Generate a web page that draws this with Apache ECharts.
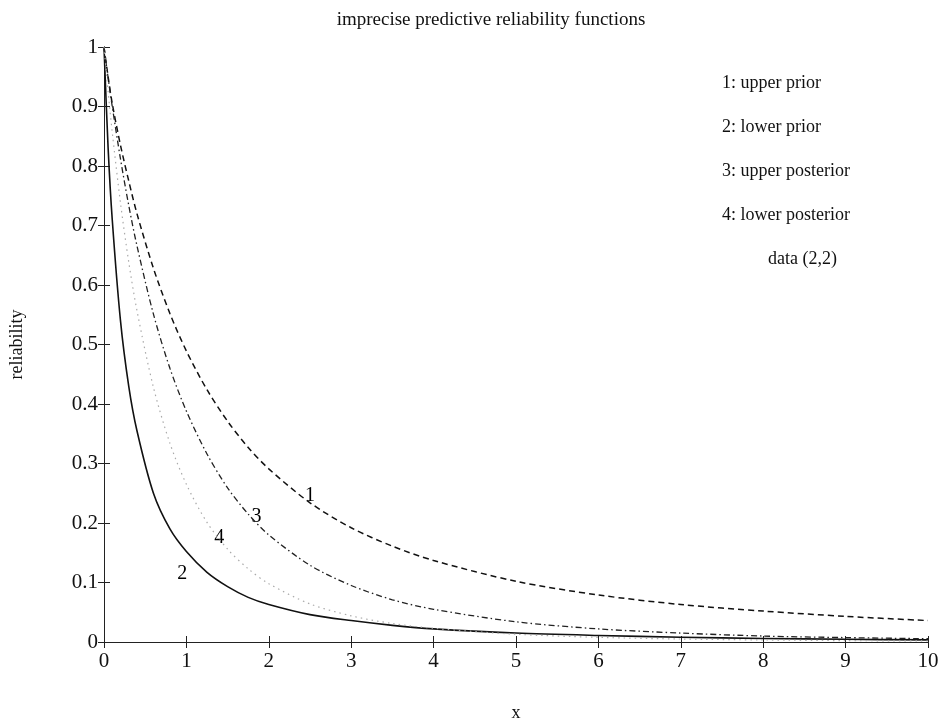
<!DOCTYPE html>
<html>
<head>
<meta charset="utf-8">
<script src="https://cdn.jsdelivr.net/npm/echarts@6/dist/echarts.min.js"></script>
<style>html,body{margin:0;padding:0;background:#fff}#c{width:943px;height:727px}</style>
</head>
<body>
<div id="c"></div>
<script>
var xs = [0,0.05,0.1,0.2,0.3,0.4,0.6,0.8,1,1.25,1.5,1.75,2,2.5,3,3.5,4,5,6,7,8,9,10];
var upperPrior = [1,0.95,0.905,0.835,0.775,0.72,0.628,0.552,0.489,0.424,0.371,0.327,0.291,0.234,0.192,0.161,0.137,0.102,0.079,0.063,0.052,0.043,0.036];
var lowerPrior = [1,0.83,0.71,0.54,0.43,0.355,0.25,0.19,0.152,0.117,0.093,0.075,0.063,0.046,0.036,0.028,0.022,0.015,0.011,0.008,0.006,0.0045,0.0035];
var upperPost = [1,0.948,0.9,0.812,0.734,0.666,0.551,0.46,0.388,0.316,0.259,0.215,0.18,0.129,0.095,0.071,0.055,0.034,0.022,0.015,0.010,0.0074,0.0055];
var lowerPost = [1,0.925,0.857,0.738,0.639,0.557,0.428,0.334,0.265,0.201,0.156,0.123,0.098,0.064,0.044,0.031,0.023,0.013,0.0078,0.005,0.0034,0.0023,0.0017];
var curveLabels = ['1','2','3','4'];
var curveLabelX = [2.5,0.95,1.85,1.4];
var curveLabelY = [0.245,0.115,0.21,0.175];
var legendLines = ['1: upper prior','2: lower prior','3: upper posterior','4: lower posterior'];
var dataNote = 'data (2,2)';

function pairs(ys){ return xs.map(function(x,i){ return [x, ys[i]]; }); }
var FONT = '"Liberation Serif", "DejaVu Serif", serif';
var chart = echarts.init(document.getElementById('c'), null, {renderer:'canvas'});
var axisCommon = {
  min: 0,
  axisLine: {show: true, lineStyle: {color: '#222', width: 1}},
  axisTick: {show: true, inside: true, length: 6, lineStyle: {color: '#222'}},
  splitLine: {show: false}
};
var lineTexts = legendLines.map(function(t, i){
  return {type:'text', left: 722, top: 74 + i*44, style:{text:t, font:'18px ' + FONT, fill:'#111'}};
});
lineTexts.push({type:'text', left: 768, top: 74 + 4*44, style:{text:dataNote, font:'18px ' + FONT, fill:'#111'}});
chart.setOption({
  animation: false,
  backgroundColor: '#fff',
  title: {text: 'imprecise predictive reliability functions', left: 486, textAlign: 'center', top: 6,
    textStyle: {fontFamily: FONT, fontWeight: 'normal', fontSize: 19, color: '#111'}},
  grid: {left: 102, right: 15, top: 47, bottom: 83},
  graphic: lineTexts,
  xAxis: [
    Object.assign({}, axisCommon, {type:'value', max: 10, interval: 1, position:'bottom',
      name: 'x', nameLocation: 'middle', nameGap: 62,
      nameTextStyle: {fontFamily: FONT, fontSize: 18, color: '#111'},
      axisLabel: {fontFamily: FONT, fontSize: 21, color: '#111', margin: 9}}),
    Object.assign({}, axisCommon, {type:'value', max: 10, interval: 1, position:'top',
      axisLabel: {show:false}})
  ],
  yAxis: [
    Object.assign({}, axisCommon, {type:'value', max: 1, interval: 0.1, position:'left',
      name: 'reliability', nameLocation: 'middle', nameGap: 78, nameRotate: 90,
      nameTextStyle: {fontFamily: FONT, fontSize: 18, color: '#111'},
      axisLabel: {fontFamily: FONT, fontSize: 21, color: '#111', margin: 6}}),
    Object.assign({}, axisCommon, {type:'value', max: 1, interval: 0.1, position:'right',
      axisLabel: {show:false}})
  ],
  series: [
    {type:'line', name:'upper prior', data: pairs(upperPrior), showSymbol:false, smooth:0.3,
      lineStyle:{color:'#111', width:1.5, type:[6,4]}},
    {type:'line', name:'lower prior', data: pairs(lowerPrior), showSymbol:false, smooth:0.3,
      lineStyle:{color:'#111', width:1.6, type:'solid'}},
    {type:'line', name:'upper posterior', data: pairs(upperPost), showSymbol:false, smooth:0.3,
      lineStyle:{color:'#222', width:1.3, type:[6,3,1.5,3]}},
    {type:'line', name:'lower posterior', data: pairs(lowerPost), showSymbol:false, smooth:0.3,
      lineStyle:{color:'#aaa', width:1.2, type:[1.5,4]}},
    {type:'scatter', symbolSize: 0, silent: true,
      data: curveLabels.map(function(t,i){ return {value:[curveLabelX[i], curveLabelY[i]], name:t}; }),
      label: {show:true, position:'inside', formatter:'{b}', fontFamily: FONT, fontSize: 20,
        color:'#000', textBorderWidth: 0, opacity: 1}}
  ]
});
</script>
</body>
</html>
